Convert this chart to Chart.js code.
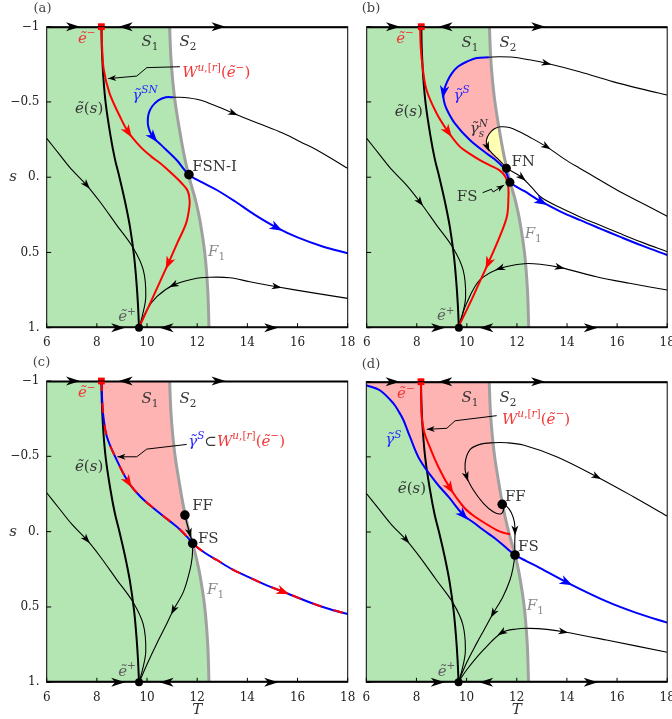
<!DOCTYPE html>
<html>
<head>
<meta charset="utf-8">
<script src="https://cdn.jsdelivr.net/npm/chart.js@4.4.1/dist/chart.umd.min.js"></script>
<style>
  html, body { margin: 0; padding: 0; background: #fff; }
  #wrap { position: relative; width: 672px; height: 719px; overflow: hidden; }
  canvas { position: absolute; }
</style>
</head>
<body>
<div id="wrap">
  <canvas id="pa" width="356" height="356" style="left:0;top:0"></canvas>
  <canvas id="pb" width="332" height="356" style="left:340px;top:0"></canvas>
  <canvas id="pc" width="356" height="365" style="left:0;top:354px"></canvas>
  <canvas id="pd" width="332" height="365" style="left:340px;top:354px"></canvas>
</div>
<script>
// axes
const xTicks = [6, 8, 10, 12, 14, 16, 18];
const sTicks = [-1, -0.5, 0, 0.5, 1];
const sTickText = ['\u22121', '\u22120.5', '0.', '0.5', '1.'];

// curves shared by every panel, as [T, s]
const fold = [[10.9,-1],[10.95,-0.8],[11.02,-0.65],[11.12,-0.5],[11.28,-0.33],[11.45,-0.17],[11.62,-0.04],[11.76,0.05],[11.93,0.15],[12.1,0.28],[12.3,0.5],[12.42,0.75],[12.47,1]];
const eCurve = [[8.18,-1],[8.2,-0.85],[8.26,-0.66],[8.36,-0.48],[8.54,-0.28],[8.72,-0.12],[8.9,0],[9.12,0.16],[9.32,0.33],[9.48,0.52],[9.58,0.7],[9.64,0.85],[9.68,1]];
const leftFlow = [[6,-0.258],[6.53,-0.147],[7.01,-0.048],[7.59,0.052],[8.13,0.165],[8.79,0.318],[9.45,0.47],[9.85,0.616],[9.95,0.794],[9.82,0.916],[9.68,1]];
const topAxis = [[6,-1],[7.05,-1],[9.15,-1],[12.85,-1],[18,-1]];
const bottomAxis = [[6,1],[8.85,1],[10.78,1],[14.95,1],[18,1]];
const eMinusPt = [8.18, -1];
const ePlusPt = [9.68, 1];

// (a)
const redA = [[8.19,-1],[8.21,-0.86],[8.27,-0.72],[8.5,-0.56],[8.9,-0.41],[9.25,-0.3],[9.72,-0.205],[10.15,-0.14],[10.55,-0.09],[10.95,-0.03],[11.38,0.04],[11.62,0.09],[11.7,0.16],[11.66,0.23],[11.55,0.31],[11.2,0.44],[10.85,0.572],[10.5,0.7],[10.2,0.81],[9.68,1]];
const gammaA = [[11.05,-0.531],[10.75,-0.531],[10.45,-0.51],[10.2,-0.47],[10.06,-0.42],[10.03,-0.36],[10.1,-0.31],[10.25,-0.265],[10.65,-0.2],[11.18,-0.114],[11.67,-0.017],[12.2,0.035],[12.78,0.085],[13.5,0.16],[14.3,0.25],[15.17,0.335],[16,0.4],[17,0.46],[18,0.506]];
const upperA = [[11.05,-0.531],[11.5,-0.53],[12.11,-0.513],[12.8,-0.47],[13.44,-0.425],[14.4,-0.36],[15.43,-0.292],[16.2,-0.228],[16.77,-0.181],[18,-0.059]];
const lowerRightA = [[9.68,1],[9.99,0.882],[10.39,0.794],[11.05,0.716],[11.85,0.676],[12.5,0.665],[13.3,0.668],[14.1,0.695],[15.17,0.728],[16.5,0.765],[18,0.805]];
const leaderA = [[11.31,-0.734],[9.99,-0.728],[9.59,-0.672],[8.45,-0.655]];
const fsnA = [11.67, -0.017];

// (b)
const redB = [[8.13,-1],[8.16,-0.86],[8.23,-0.734],[8.39,-0.579],[8.79,-0.425],[9.25,-0.302],[9.72,-0.203],[10.12,-0.155],[10.52,-0.114],[10.9,-0.08],[11.31,-0.045],[11.55,0],[11.65,0.06],[11.66,0.13],[11.6,0.26],[11.3,0.4],[10.85,0.572],[10.5,0.7],[10.2,0.81],[9.65,1]];
const gammaB = [[10.88,-0.797],[10.4,-0.792],[9.99,-0.767],[9.65,-0.735],[9.4,-0.69],[9.2,-0.63],[9.07,-0.565],[9.08,-0.51],[9.2,-0.45],[9.52,-0.358],[10.12,-0.247],[10.78,-0.159],[11.18,-0.11],[11.45,-0.065],[11.62,-0.01],[11.72,0.034],[12.3,0.093],[12.98,0.163],[13.7,0.225],[14.5,0.284],[15.3,0.34],[16.1,0.395],[17,0.455],[18,0.517]];
const upperB = [[10.88,-0.797],[11.3,-0.8],[11.85,-0.797],[12.5,-0.78],[13.18,-0.757],[14.5,-0.701],[15.83,-0.635],[17,-0.585],[18,-0.546]];
const loopB = [[11.58,-0.059],[11.45,-0.085],[11.28,-0.115],[11,-0.16],[10.82,-0.2],[10.78,-0.245],[10.9,-0.29],[11.1,-0.322],[11.35,-0.335],[11.7,-0.33],[12.1,-0.302],[12.6,-0.258],[13.18,-0.203],[13.9,-0.12],[14.5,-0.06],[15.17,0.005],[16.23,0.107],[17.2,0.19],[18,0.26]];
const fnRightB = [[11.58,-0.059],[11.9,-0.03],[12.2,0.002],[12.6,0.07],[12.98,0.135],[13.7,0.2],[14.5,0.262],[15.3,0.318],[16.1,0.373],[17,0.433],[18,0.495]];
const lowerRightB = [[9.65,1],[9.99,0.838],[10.52,0.683],[11.32,0.606],[12.3,0.575],[13,0.58],[13.71,0.599],[15.17,0.661],[16.5,0.705],[18,0.75]];
const leaderB = [[10.63,0.103],[10.98,0.08],[11.05,0.098],[11.49,0.052]];
const fnB = [11.58, -0.059];
const fsB = [11.72, 0.034];

// (c)
const wC = [[8.19,-1],[8.21,-0.88],[8.26,-0.764],[8.4,-0.63],[8.75,-0.49],[9.25,-0.33],[9.72,-0.235],[10.12,-0.175],[10.52,-0.121],[10.92,-0.068],[11.31,-0.015],[11.6,0.035],[11.82,0.078],[12.3,0.14],[12.78,0.188],[13.4,0.25],[14.1,0.305],[14.75,0.355],[15.43,0.399],[16.5,0.47],[17.2,0.51],[18,0.547]];
const ffFsC = [[11.51,-0.11],[11.6,-0.05],[11.7,0.01],[11.82,0.078]];
const fsDownC = [[11.82,0.078],[11.8,0.17],[11.71,0.255],[11.45,0.4],[11.05,0.52],[10.7,0.64],[10.39,0.742],[10,0.88],[9.69,1]];
const leaderC = [[11.58,-0.579],[9.99,-0.548],[9.59,-0.497],[8.82,-0.497]];
const ffC = [11.51, -0.11];
const fsC = [11.82, 0.078];

// (d)
const blueD = [[6,-0.976],[6.54,-0.943],[7.08,-0.856],[7.3,-0.8],[7.48,-0.745],[7.74,-0.634],[8.14,-0.479],[8.81,-0.324],[9.3,-0.23],[9.87,-0.113],[10.3,-0.06],[10.67,-0.013],[11.15,0.045],[11.6,0.108],[11.93,0.153],[12.4,0.195],[12.93,0.24],[13.99,0.335],[15.58,0.462],[16.8,0.54],[18,0.603]];
const redD = [[8.18,-1],[8.19,-0.88],[8.21,-0.767],[8.3,-0.67],[8.47,-0.59],[8.87,-0.434],[9.34,-0.291],[9.87,-0.168],[10.2,-0.118],[10.53,-0.08],[11.2,-0.013],[11.5,0.006],[11.73,0.015]];
const loopD = [[11.42,-0.184],[11.48,-0.15],[11.35,-0.12],[11.06,-0.135],[10.67,-0.191],[10.27,-0.279],[10,-0.368],[9.94,-0.457],[10.13,-0.546],[10.53,-0.583],[11.06,-0.594],[11.6,-0.594],[12.26,-0.579],[13.59,-0.501],[15.19,-0.368],[16.65,-0.235],[18,-0.106]];
const ffFsD = [[11.42,-0.184],[11.6,-0.17],[11.78,-0.13],[11.9,-0.07],[11.93,-0.01],[11.92,0.08],[11.93,0.153]];
const fsDownD = [[11.93,0.153],[11.85,0.24],[11.73,0.319],[11.45,0.43],[11.06,0.541],[10.7,0.65],[10.4,0.741],[10,0.87],[9.67,1]];
const lowerRightD = [[9.67,1],[10,0.918],[10.67,0.785],[11.4,0.67],[12,0.645],[12.52,0.641],[13.2,0.648],[13.86,0.664],[15.58,0.719],[18,0.8]];
const leaderD = [[11.2,-0.774],[9.54,-0.74],[9.21,-0.69],[8.41,-0.683]];
const ffD = [11.42, -0.184];
const fsD = [11.93, 0.153];

const FONT = '"DejaVu Serif", serif';
const col = {
  green: 'rgb(179,230,179)', pink: 'rgb(255,180,180)', yellow: 'rgb(255,255,180)',
  red: '#ff0000', blue: '#0000ff', fold: '#a0a0a0',
  txt: '#363636', redTxt: '#f03838', blueTxt: '#2828ff', gray: '#8a8a8a', gray2: '#606060'
};
// arrowhead presets: length, width, tip position (0.5 = centred on the vertex, 1 = tip on the vertex)
const heads = { axis: [14, 9, 0.5], main: [13, 9.5, 0.5], thin: [10, 7, 0.5], lead: [8, 6, 1] };

const pts = arr => arr.map(([x, y]) => ({ x, y }));

// fold points between two s values, in the order walked from s0 to s1
function foldBetween(s0, s1) {
  const lo = Math.min(s0, s1), hi = Math.max(s0, s1);
  const f = fold.filter(p => p[1] >= lo && p[1] <= hi);
  return s0 < s1 ? f : f.slice().reverse();
}

function curve(arr, color, width, order, extra) {
  return Object.assign({ data: pts(arr), borderColor: color, borderWidth: width, pointRadius: 0,
    tension: 0.35, fill: false, order }, extra || {});
}
function region(arr, color, order) {
  return { data: pts(arr), borderWidth: 0, borderColor: 'rgba(0,0,0,0)', backgroundColor: color,
    pointRadius: 0, tension: 0, fill: 'shape', order };
}
function dot(p, color, r, style) {
  return { data: pts([p]), showLine: false, pointRadius: r, pointBackgroundColor: color,
    pointBorderColor: color, pointBorderWidth: 0, pointStyle: style || 'circle', order: 2, clip: false };
}

// pieces common to every panel
function base(leftArrow) {
  return [
    region([[6, -1], ...fold, [6, 1]], col.green, 100),
    curve(fold, col.fold, 3, 90),
    curve(leftFlow, '#000', 1.1, 60, { arrows: [[leftArrow, 1, 'thin']] }),
    curve(eCurve, '#000', 2, 50),
    curve(topAxis, '#000', 3, 20, { tension: 0, arrows: [[1, 1, 'axis'], [2, -1, 'axis'], [3, 1, 'axis']] }),
    curve(bottomAxis, '#000', 3, 20, { tension: 0, arrows: [[1, 1, 'axis'], [2, -1, 'axis'], [3, 1, 'axis']] }),
    dot(ePlusPt, '#000', 4),
    dot(eMinusPt, col.red, 4.8, 'rect')
  ];
}
function leader(arr) {
  return curve(arr, '#000', 1, 15, { tension: 0, arrows: [[arr.length - 1, 1, 'lead']] });
}

// label pieces: [text, kind, colour]; kind: i italic, ^ superscript, _ subscript, & stacked on previous
const tE = '\u1EBD', tG = '\u03B3\u0303';
const lbEminus = [[tE, 'i'], ['\u2212', '^']];
const lbEplus = [[tE, 'i'], ['+', '^']];
const lbEs = [[tE, 'i'], ['('], ['s', 'i'], [')']];
const lbS1 = [['S', 'i'], ['1', '_']];
const lbS2 = [['S', 'i'], ['2', '_']];
const lbF1 = [['F', 'i'], ['1', '_']];
const lbW = [['W', 'i'], ['u', '^i'], [',[', '^'], ['r', '^i'], [']', '^'], ['('], [tE, 'i'], ['\u2212', '^'], [')']];

function commonLabels(em, s1, s2, ep) {
  return [
    { at: em, c: col.redTxt, parts: lbEminus },
    { at: s1, c: col.txt, parts: lbS1 },
    { at: s2, c: col.txt, parts: lbS2 },
    { at: ep, c: col.gray2, parts: lbEplus }
  ];
}

function rich(ctx, parts, px, py, left, color) {
  const runs = parts.map(([t, k = '', c]) => {
    const small = k.includes('^') || k.includes('_');
    const font = (k.includes('i') ? 'italic ' : '') + (small ? 10.5 : 15) + 'px ' + FONT;
    ctx.font = font;
    return { t, font, w: ctx.measureText(t).width, c: c || color, stack: k.includes('&'),
      dy: k.includes('^') ? -6.5 : (k.includes('_') ? 4 : 0) };
  });
  let x = 0;
  const xs = [];
  runs.forEach((r, j) => {
    if (r.stack && j > 0) { xs.push(xs[j - 1]); x = Math.max(x, xs[j - 1] + r.w); }
    else { xs.push(x); x += r.w; }
  });
  const x0 = left ? px : px - x / 2;
  ctx.textAlign = 'left';
  ctx.textBaseline = 'alphabetic';
  runs.forEach((r, j) => {
    ctx.font = r.font;
    ctx.fillStyle = r.c;
    ctx.fillText(r.t, x0 + xs[j], py + 5.5 + r.dy);
  });
}

function drawHead(ctx, x, y, ang, kind, color) {
  const [len, wid, frac] = heads[kind];
  const tip = len * (1 - frac);
  ctx.save();
  ctx.translate(x, y);
  ctx.rotate(ang);
  ctx.beginPath();
  ctx.moveTo(tip, 0);
  ctx.lineTo(tip - len, -wid / 2);
  ctx.lineTo(tip - len * 0.72, 0);
  ctx.lineTo(tip - len, wid / 2);
  ctx.closePath();
  ctx.fillStyle = color;
  ctx.fill();
  ctx.restore();
}

function deco(spec) {
  return {
    id: 'deco',
    afterDatasetsDraw(chart) {
      const ctx = chart.ctx, xs = chart.scales.x, ys = chart.scales.y, a = chart.chartArea;
      ctx.save();
      // frame and inward ticks
      ctx.strokeStyle = '#000';
      ctx.lineWidth = 1;
      ctx.strokeRect(a.left, a.top, a.right - a.left, a.bottom - a.top);
      ctx.beginPath();
      xTicks.forEach(v => { const p = xs.getPixelForValue(v); ctx.moveTo(p, a.bottom); ctx.lineTo(p, a.bottom - 4.5); });
      sTicks.forEach(v => { const p = ys.getPixelForValue(v); ctx.moveTo(a.left, p); ctx.lineTo(a.left + 4.5, p); });
      ctx.stroke();

      // arrowheads sitting on the dataset vertices
      chart.data.datasets.forEach((ds, k) => {
        if (!ds.arrows) return;
        const el = chart.getDatasetMeta(k).data;
        ds.arrows.forEach(([i, dir, kind]) => {
          const p = el[i], p0 = el[Math.max(i - 1, 0)], p1 = el[Math.min(i + 1, el.length - 1)];
          let ang = Math.atan2(p1.y - p0.y, p1.x - p0.x);
          if (dir < 0) ang += Math.PI;
          drawHead(ctx, p.x, p.y, ang, kind, ds.arrowColor || ds.borderColor);
        });
      });

      // text placed in data coordinates
      spec.labels.forEach(l => {
        rich(ctx, l.parts, xs.getPixelForValue(l.at[0]), ys.getPixelForValue(l.at[1]), l.left, l.c);
      });
      // panel tag and axis names
      ctx.textAlign = 'center';
      ctx.textBaseline = 'middle';
      ctx.fillStyle = '#444';
      ctx.font = '13px ' + FONT;
      ctx.fillText(spec.tag[0], spec.tag[1], spec.tag[2]);
      ctx.font = 'italic 15px ' + FONT;
      ctx.fillStyle = '#333';
      if (spec.showS) ctx.fillText('s', 13, ys.getPixelForValue(0));
      if (spec.showT) ctx.fillText('T', (a.left + a.right) / 2, a.bottom + 28);
      ctx.restore();
    }
  };
}

function panel(id, spec) {
  new Chart(document.getElementById(id), {
    type: 'line',
    data: { datasets: spec.datasets },
    options: {
      responsive: false,
      animation: false,
      devicePixelRatio: 1,
      events: [],
      layout: { padding: spec.pad },
      plugins: { legend: { display: false }, tooltip: { enabled: false } },
      scales: {
        x: {
          type: 'linear', min: 6, max: 18,
          afterBuildTicks: s => { s.ticks = xTicks.map(v => ({ value: v })); },
          afterFit: s => { s.height = spec.xH; s.paddingLeft = 0; s.paddingRight = 0; },
          grid: { display: false, drawTicks: false },
          border: { display: false },
          ticks: { padding: 8.4, autoSkip: false, maxRotation: 0, color: '#222',
            font: { family: 'DejaVu Serif', size: 12 }, callback: v => String(v) }
        },
        y: {
          type: 'linear', min: -1, max: 1, reverse: true,
          afterBuildTicks: s => { s.ticks = sTicks.map(v => ({ value: v })); },
          afterFit: s => { s.width = spec.yW; },
          grid: { display: false, drawTicks: false },
          border: { display: false },
          ticks: { display: spec.showS, padding: 7.2, color: '#222',
            font: { family: 'DejaVu Serif', size: 12 },
            callback: v => sTickText[sTicks.indexOf(v)] }
        }
      }
    },
    plugins: [deco(spec)]
  });
}

// (a) folded saddle-node of type I
panel('pa', {
  pad: { top: 26.7, right: 8.3, bottom: 0, left: 0 }, yW: 46.7, xH: 28.3,
  showS: true, showT: false, tag: ['(a)', 42.5, 9],
  datasets: [
    ...base(3),
    curve(upperA, '#000', 1.1, 60, { arrows: [[4, 1, 'thin']] }),
    curve(lowerRightA, '#000', 1.1, 60, { arrows: [[3, -1, 'thin'], [8, 1, 'thin']] }),
    curve(gammaA, col.blue, 2, 40, { arrows: [[7, 1, 'main'], [15, 1, 'main']] }),
    curve(redA, col.red, 2, 40, { arrows: [[5, 1, 'main'], [16, 1, 'main']] }),
    leader(leaderA),
    dot(fsnA, '#000', 4.8)
  ],
  labels: [
    ...commonLabels([7.6, -0.93], [10.12, -0.91], [11.63, -0.91], [9.2, 0.92]),
    { at: [11.4, -0.7], left: true, c: col.redTxt, parts: lbW },
    { at: [9.92, -0.55], c: col.blueTxt, parts: [[tG, 'i'], ['SN', '^i']] },
    { at: [7.69, -0.46], c: col.txt, parts: lbEs },
    { at: [11.8, -0.08], left: true, c: col.txt, parts: [['FSN-I']] },
    { at: [12.43, 0.49], left: true, c: col.gray, parts: lbF1 }
  ]
});

// (b) folded node and folded saddle
panel('pb', {
  pad: { top: 26.7, right: 3.7, bottom: 0, left: 0 }, yW: 26.7, xH: 28.3,
  showS: false, showT: false, tag: ['(b)', 31, 9],
  datasets: [
    ...base(4),
    region([...gammaB.slice(0, 16), ...foldBetween(0.034, -0.797)], col.pink, 99),
    region([...loopB.slice(0, 9), ...foldBetween(-0.335, -0.059)], col.yellow, 98),
    curve(upperB, '#000', 1.1, 60, { arrows: [[4, 1, 'thin']] }),
    curve(loopB, '#000', 1.1, 60, { arrows: [[4, -1, 'thin'], [12, 1, 'thin']] }),
    curve(fnRightB, '#000', 1.1, 60, { arrows: [[2, 1, 'thin']] }),
    curve(lowerRightB, '#000', 1.1, 60, { arrows: [[3, -1, 'thin'], [6, 1, 'thin']] }),
    curve(gammaB, col.blue, 2, 40, { arrows: [[6, 1, 'main'], [17, 1, 'main']] }),
    curve(redB, col.red, 2, 40, { arrows: [[5, 1, 'main'], [16, 1, 'main']] }),
    leader(leaderB),
    dot(fnB, '#000', 4.5),
    dot(fsB, '#000', 4.5)
  ],
  labels: [
    ...commonLabels([7.53, -0.93], [10.12, -0.9], [11.64, -0.9], [9.16, 0.915]),
    { at: [9.79, -0.55], c: col.blueTxt, parts: [[tG, 'i'], ['S', '^i']] },
    { at: [10.48, -0.33], c: col.txt, parts: [[tG, 'i'], ['s', '_i'], ['N', '^i&']] },
    { at: [7.68, -0.446], c: col.txt, parts: lbEs },
    { at: [11.78, -0.114], left: true, c: col.txt, parts: [['FN']] },
    { at: [9.6, 0.12], left: true, c: col.txt, parts: [['FS']] },
    { at: [12.31, 0.37], left: true, c: col.gray, parts: lbF1 }
  ]
});

// (c) folded focus and folded saddle, strong canard on the unstable manifold
panel('pc', {
  pad: { top: 27, right: 8.3, bottom: 0, left: 0 }, yW: 46.7, xH: 36.7,
  showS: true, showT: true, tag: ['(c)', 41.5, 9],
  datasets: [
    ...base(3),
    region([...wC.slice(0, 13), ...foldBetween(0.078, -1)], col.pink, 99),
    curve(ffFsC, '#000', 1.1, 60, { tension: 0.2, arrows: [[2, 1, 'thin']] }),
    curve(fsDownC, '#000', 1.1, 60, { arrows: [[4, 1, 'thin']] }),
    curve(wC, col.blue, 2, 41),
    curve(wC, col.red, 2, 40, { borderDash: [10, 12], arrows: [[5, 1, 'main'], [18, 1, 'main']] }),
    leader(leaderC),
    dot(ffC, '#000', 4.8),
    dot(fsC, '#000', 4.8)
  ],
  labels: [
    ...commonLabels([7.6, -0.93], [10.12, -0.89], [11.63, -0.89], [9.2, 0.92]),
    { at: [11.64, -0.608], left: true, c: col.redTxt,
      parts: [[tG, 'i', col.blueTxt], ['S', '^i', col.blueTxt], ['\u2282', '', col.txt], ...lbW] },
    { at: [7.69, -0.442], c: col.txt, parts: lbEs },
    { at: [11.8, -0.177], left: true, c: col.txt, parts: [['FF']] },
    { at: [12.03, 0.036], left: true, c: col.txt, parts: [['FS']] },
    { at: [12.39, 0.375], left: true, c: col.gray, parts: lbF1 }
  ]
});

// (d) folded focus and folded saddle, strong canard below the unstable manifold
panel('pd', {
  pad: { top: 27.7, right: 3.7, bottom: 0, left: 0 }, yW: 26.3, xH: 36.7,
  showS: false, showT: true, tag: ['(d)', 31, 11],
  datasets: [
    ...base(3),
    region([...blueD.slice(0, 15), ...foldBetween(0.153, -1), [6, -1]], col.pink, 99),
    curve(loopD, '#000', 1.1, 60, { arrows: [[6, -1, 'thin'], [14, 1, 'thin']] }),
    curve(ffFsD, '#000', 1.1, 60, { arrows: [[4, 1, 'thin']] }),
    curve(fsDownD, '#000', 1.1, 60, { arrows: [[4, 1, 'thin']] }),
    curve(lowerRightD, '#000', 1.1, 60, { arrows: [[3, -1, 'thin'], [7, 1, 'thin']] }),
    curve(blueD, col.blue, 2, 40, { arrows: [[9, 1, 'main'], [17, 1, 'main']] }),
    curve(redD, col.red, 2, 40, { arrows: [[6, 1, 'main']] }),
    leader(leaderD),
    dot(ffD, '#000', 4.8),
    dot(fsD, '#000', 4.8)
  ],
  labels: [
    ...commonLabels([7.58, -0.926], [10.13, -0.9], [11.65, -0.9], [9.2, 0.921]),
    { at: [11.41, -0.758], left: true, c: col.redTxt, parts: lbW },
    { at: [7.08, -0.622], c: col.blueTxt, parts: [[tG, 'i'], ['S', '^i']] },
    { at: [7.82, -0.296], c: col.txt, parts: lbEs },
    { at: [11.53, -0.24], left: true, c: col.txt, parts: [['FF']] },
    { at: [12.05, 0.093], left: true, c: col.txt, parts: [['FS']] },
    { at: [12.4, 0.48], left: true, c: col.gray, parts: lbF1 }
  ]
});
</script>
</body>
</html>
